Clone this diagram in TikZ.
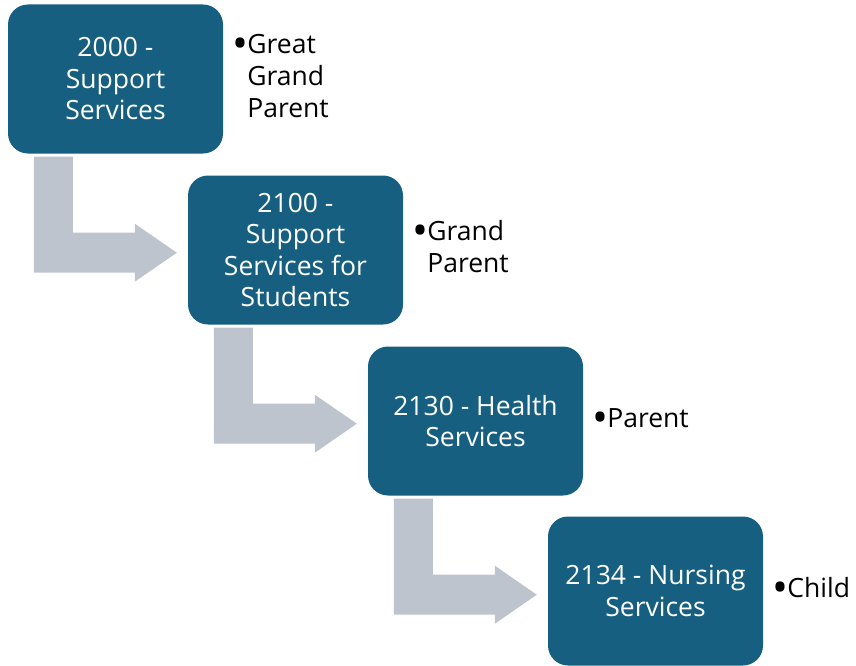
\documentclass[tikz,border=0pt]{standalone}
\usepackage{fontspec}
\setmainfont{Open Sans}
\usepackage{tikz}
\usetikzlibrary{shapes, positioning}
\definecolor{boxblue}{RGB}{23,95,128}
\definecolor{bentgray}{RGB}{189,196,205}
\tikzstyle{stage} = [rectangle, rounded corners=20pt, minimum width=215pt, minimum height=149pt, text centered, align=center, fill=boxblue, text=white, font=\fontsize{26.5}{31.5}\selectfont]
\tikzstyle{level} = [anchor=west, align=left, text=black, font=\fontsize{26.5}{32}\selectfont, inner sep=0pt]
\newcommand{\bul}[1]{\begin{tabular}{@{}l@{\hspace{-1pt}}l@{}}\raisebox{-5pt}{\scalebox{1.6}{\textbullet}}&#1\end{tabular}}
% bent arrow, drawn from the south west corner of a box
\newcommand{\bentarrow}[1]{
    \begin{scope}[shift={(#1.south west)}]
        \fill [bentgray] (26,-3) -- (65,-3) -- (65,-79) -- (127,-79) -- (127,-70) -- (169,-99)
            -- (127,-128) -- (127,-119) -- (26,-119) -- cycle;
    \end{scope}
}

\begin{document}
\begin{tikzpicture}[x=1pt, y=1pt]
    \useasboundingbox (0,0) rectangle (856,-666);

    \node (s2000) [stage] at (115.5, -79) {2000 -\\Support\\Services};
    \node (s2100) [stage] at (295.5, -250) {2100 -\\Support\\Services for\\Students};
    \node (s2130) [stage] at (475.5, -421) {2130 - Health\\Services};
    \node (s2134) [stage] at (655.5, -591) {2134 - Nursing\\Services};

    \node (l2000) [level, right=9pt of s2000] {\bul{Great\\&Grand\\&Parent}};
    \node (l2100) [level, right=9pt of s2100] {\bul{Grand\\&Parent}};
    \node (l2130) [level, right=9pt of s2130] {\bul{Parent}};
    \node (l2134) [level, right=9pt of s2134] {\bul{Child}};

    \bentarrow{s2000}
    \bentarrow{s2100}
    \bentarrow{s2130}

\end{tikzpicture}
\end{document}
